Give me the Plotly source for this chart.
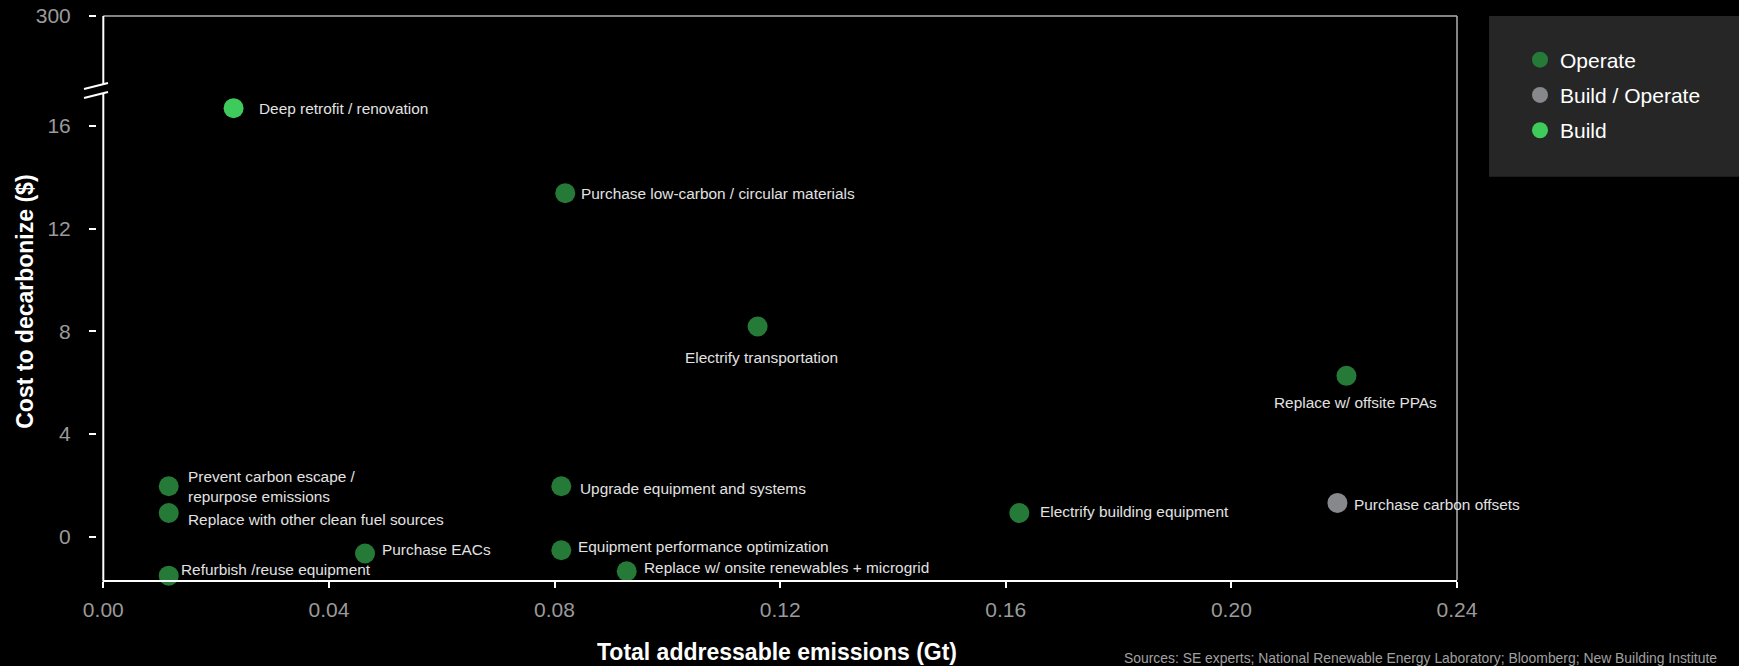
import plotly.graph_objects as go

# ---- data -------------------------------------------------------------
operate_names = [
    "Purchase low-carbon / circular materials",
    "Electrify transportation",
    "Replace w/ offsite PPAs",
    "Electrify building equipment",
    "Upgrade equipment and systems",
    "Equipment performance optimization",
    "Replace w/ onsite renewables + microgrid",
    "Prevent carbon escape /<br>repurpose emissions",
    "Replace with other clean fuel sources",
    "Purchase EACs",
    "Refurbish /reuse equipment",
]
operate_x = [0.0819, 0.1160, 0.2204, 0.1624, 0.0812, 0.0812, 0.0928, 0.0116, 0.0116, 0.0464, 0.0116]
operate_y = [13.38, 8.19, 6.27, 0.93, 1.97, -0.52, -1.34, 1.97, 0.93, -0.65, -1.51]

build_operate_names = ["Purchase carbon offsets"]
build_operate_x = [0.2188]
build_operate_y = [1.32]

build_names = ["Deep retrofit / renovation"]
build_x = [0.0231]
build_y = [16.69]

x_ticks = [0.00, 0.04, 0.08, 0.12, 0.16, 0.20, 0.24]
y_ticks_low = [0, 4, 8, 12, 16]
y_ticks_high = [300]

# ---- label placement (pixel offsets from marker centre) ----------------
label_offsets = {
    "Purchase low-carbon / circular materials": (14, 0, "left"),
    "Electrify transportation": (4, -31, "center"),
    "Replace w/ offsite PPAs": (9, -27, "center"),
    "Electrify building equipment": (19, 1, "left"),
    "Upgrade equipment and systems": (17, -2, "left"),
    "Equipment performance optimization": (15, 4, "left"),
    "Replace w/ onsite renewables + microgrid": (15, 4, "left"),
    "Prevent carbon escape /<br>repurpose emissions": (17, 0, "left"),
    "Replace with other clean fuel sources": (17, -7, "left"),
    "Purchase EACs": (15, 4, "left"),
    "Refurbish /reuse equipment": (10, 6, "left"),
    "Purchase carbon offsets": (15, -2, "left"),
    "Deep retrofit / renovation": (23, 0, "left"),
}

# ---- geometry -----------------------------------------------------------
W, H = 1739, 666
ML, MR, MT, MB = 96, 282, 16, 85.5
PW = W - ML - MR
PH = H - MT - MB
AXIS_X_PX = 103.3           # left plot edge (y-axis line)
BREAK_PX = 90               # where the y axis is broken

def px_x(px):
    return (px - ML) / PW

def px_y(py):
    return (H - MB - py) / PH

low_top = px_y(BREAK_PX)

FONT = "Liberation Sans, Arial, sans-serif"
C_OPERATE = "#267a38"
C_BOTH = "#87888c"
C_BUILD = "#3ecb5b"
TICK_GRAY = "#9a9a9a"
LABEL_COL = "#e2e2e2"

fig = go.Figure()

for name, xs, ys, names, col in [
    ("Operate", operate_x, operate_y, operate_names, C_OPERATE),
    ("Build / Operate", build_operate_x, build_operate_y, build_operate_names, C_BOTH),
    ("Build", build_x, build_y, build_names, C_BUILD),
]:
    fig.add_trace(go.Scatter(
        x=xs, y=ys, mode="markers", name=name, text=names,
        legendgroup=name,
        marker=dict(size=20, color=col, line=dict(width=0)),
        cliponaxis=False, hoverinfo="text+x+y",
    ))

# empty trace so the upper (post-break) axis segment gets drawn
fig.add_trace(go.Scatter(x=[], y=[], yaxis="y2", showlegend=False, hoverinfo="skip"))

annotations = []
for names, xs, ys in [(operate_names, operate_x, operate_y),
                      (build_operate_names, build_operate_x, build_operate_y),
                      (build_names, build_x, build_y)]:
    for n, xv, yv in zip(names, xs, ys):
        dx, dy, anchor = label_offsets[n]
        annotations.append(dict(
            x=xv, y=yv, xref="x", yref="y", text=n, showarrow=False,
            xanchor=anchor, yanchor="middle", xshift=dx, yshift=dy,
            align="left", font=dict(family=FONT, size=15.4, color=LABEL_COL),
        ))

# axis titles and source line
annotations.append(dict(
    x=px_x(25), y=px_y(302), xref="paper", yref="paper", text="<b>Cost to decarbonize ($)</b>",
    textangle=-90, showarrow=False, xanchor="center", yanchor="middle",
    font=dict(family=FONT, size=23, color="white"),
))
annotations.append(dict(
    x=px_x(777), y=px_y(652.5), xref="paper", yref="paper",
    text="<b>Total addressable emissions (Gt)</b>", showarrow=False,
    xanchor="center", yanchor="middle", font=dict(family=FONT, size=23, color="white"),
))
annotations.append(dict(
    x=px_x(1719), y=px_y(659), xref="paper", yref="paper",
    text="Sources: SE experts; National Renewable Energy Laboratory; Bloomberg; New Building Institute",
    showarrow=False, xanchor="right", yanchor="middle",
    font=dict(family=FONT, size=13.9, color="#a0a0a0"),
))

x0d = px_x(AXIS_X_PX)
shapes = [
    # legend panel
    dict(type="rect", xref="paper", yref="paper", x0=px_x(1489), x1=px_x(1760),
         y0=px_y(177), y1=px_y(16), fillcolor="#262626", line=dict(width=0), layer="below"),
    # top and right frame
    dict(type="line", xref="paper", yref="paper", x0=x0d, x1=1, y0=1, y1=1,
         line=dict(color="#b0b0b0", width=1.5), layer="above"),
    dict(type="line", xref="paper", yref="paper", x0=1, x1=1, y0=0, y1=1,
         line=dict(color="#b0b0b0", width=1.5), layer="above"),
    # left axis line
    dict(type="line", xref="paper", yref="paper", x0=x0d, x1=x0d, y0=px_y(582), y1=1,
         line=dict(color="white", width=2), layer="above"),
    # axis break: gap and two slashes
    dict(type="path", xref="paper", yref="paper",
         path=f"M {px_x(84)},{px_y(89)} L {px_x(108)},{px_y(83)} L {px_x(108)},{px_y(92)} L {px_x(84)},{px_y(98)} Z",
         fillcolor="black", line=dict(width=0), layer="above"),
    dict(type="line", xref="paper", yref="paper", x0=px_x(84), y0=px_y(89), x1=px_x(108), y1=px_y(83),
         line=dict(color="white", width=2), layer="above"),
    dict(type="line", xref="paper", yref="paper", x0=px_x(84), y0=px_y(98), x1=px_x(108), y1=px_y(92),
         line=dict(color="white", width=2), layer="above"),
]

tickfont = dict(family=FONT, size=21, color=TICK_GRAY)
y_common = dict(
    anchor="free", position=0, showgrid=False, zeroline=False, showline=False,
    ticks="outside", ticklen=7, tickwidth=2, tickcolor="white",
    tickfont=tickfont, ticklabelstandoff=14, automargin=False,
)

fig.update_layout(
    width=W, height=H,
    margin=dict(l=ML, r=MR, t=MT, b=MB, pad=0, autoexpand=False),
    paper_bgcolor="black", plot_bgcolor="black",
    font=dict(family=FONT, color="white"),
    xaxis=dict(
        domain=[x0d, 1], range=[0, 0.24], tickvals=x_ticks, tickformat=".2f",
        showgrid=False, zeroline=False, showline=True, linecolor="white", linewidth=2,
        ticks="outside", ticklen=6, tickwidth=2, tickcolor="white",
        tickfont=tickfont, anchor="y", ticklabelstandoff=4, automargin=False,
    ),
    yaxis=dict(domain=[0, low_top], range=[-1.68, 17.40], tickvals=y_ticks_low, **y_common),
    yaxis2=dict(domain=[low_top, 1], range=[250, 300.01], tickvals=y_ticks_high, **y_common),
    legend=dict(
        x=px_x(1520), y=px_y(39.5), xanchor="left", yanchor="top",
        bgcolor="rgba(0,0,0,0)", font=dict(family=FONT, size=21, color="white"),
        tracegroupgap=5, itemsizing="trace",
    ),
    showlegend=True,
    annotations=annotations,
    shapes=shapes,
)

fig.write_html("out.html")
